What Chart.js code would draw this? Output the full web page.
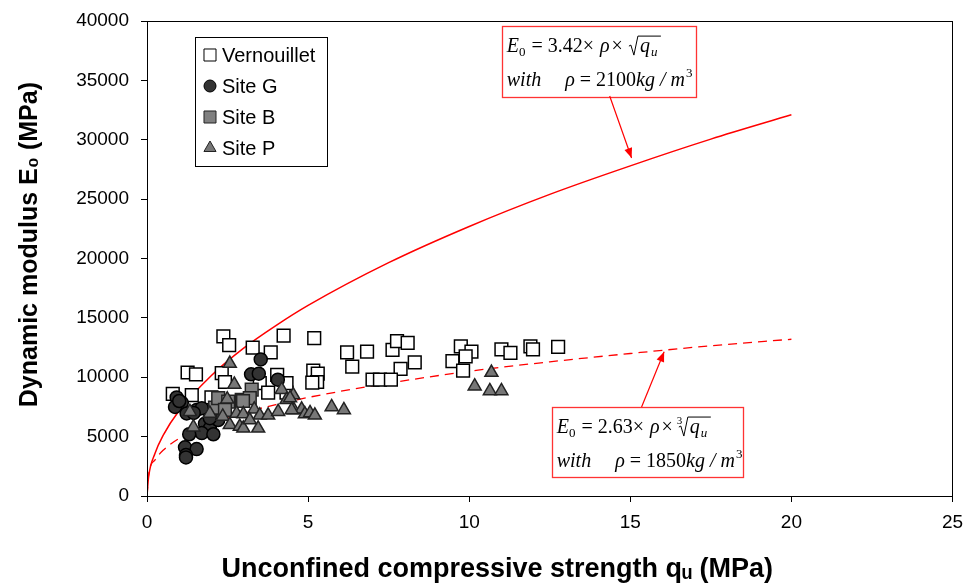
<!DOCTYPE html>
<html>
<head>
<meta charset="utf-8">
<title>Dynamic modulus vs unconfined compressive strength</title>
<script src="https://cdn.jsdelivr.net/npm/chart.js@4.4.0/dist/chart.umd.min.js"></script>
<style>
  html, body { margin: 0; padding: 0; background: #fff; }
</style>
</head>
<body>
<canvas id="chart" width="963" height="588"></canvas>
<script>
// Measured points (qu in MPa, E0 in MPa)
const vernQu = [0.80, 1.26, 1.52, 1.39, 2.00, 2.37, 2.55, 2.32, 2.42, 3.28, 3.50, 3.84, 3.76, 4.04, 4.24, 4.33, 4.33,
    5.19, 5.16, 5.30, 5.28, 5.13, 6.21, 6.83, 6.37, 7.62, 7.76, 8.09, 8.31, 7.87, 7.00, 7.23, 7.57,
    9.74, 10.07, 9.89, 9.48, 9.81, 11.00, 11.28, 11.90, 11.98, 12.76];
const vernE = [8600, 10400, 10250, 8500, 8300, 13450, 12700, 10350, 9600, 12500, 9500, 12100, 8700, 10200, 13500, 8700, 9500,
    13300, 10550, 10300, 9600, 9550, 12100, 12150, 10900, 12300, 13050, 12900, 11250, 10700, 9800, 9800, 9800,
    12600, 12150, 11750, 11350, 10550, 12350, 12050, 12600, 12350, 12550];

const siteGQu = [3.53, 3.23, 3.47, 4.06, 0.92, 1.08, 0.87, 1.23, 1.54, 1.70, 1.80, 1.95, 1.70, 2.06, 1.31, 1.18, 1.54,
    1.21, 1.21, 2.21, 1.00, 1.45, 1.95];
const siteGE = [11500, 10250, 10300, 9800, 8300, 7850, 7500, 6950, 7250, 7400, 6100, 5700, 5300, 5200, 5200, 4100, 3950,
    3450, 3250, 6400, 8000, 7000, 6550];

const siteBQu = [3.25, 2.94, 2.11, 2.21, 2.52, 3.19, 2.42, 2.98];
const siteBE = [8950, 8100, 7450, 8250, 7950, 8250, 7250, 8000];

const sitePQu = [2.57, 2.71, 2.49, 1.33, 1.95, 2.35, 1.44, 2.78, 2.99, 3.33, 3.50, 3.76, 4.07, 4.18, 4.33, 2.57, 2.88,
    2.99, 3.45, 3.19, 4.54, 4.44, 4.56, 4.80, 4.90, 5.06, 5.21, 5.73, 6.11, 10.69, 10.17, 10.64, 11.00, 4.49];
const sitePE = [11150, 9400, 8150, 7100, 6950, 6700, 5800, 6950, 6900, 7300, 6800, 6800, 7100, 8950, 8100, 6000, 5850,
    5700, 5700, 6400, 8500, 8250, 7250, 7300, 6900, 7000, 6800, 7500, 7250, 10400, 9250, 8850, 8850, 7250];

// Correlation curves
const curveQu = [0, 0.05, 0.25, 0.5, 1, 2, 3, 4, 5, 7.5, 10, 12.5, 15, 17.5, 20];
const sqrtCurveE = [0, 1600, 3600, 5100, 7200, 10150, 12450, 14350, 16050, 19650, 22700, 25400, 27800, 30050, 32100];
const cbrtCurveE = [0, 1800, 3050, 3850, 4850, 6150, 7000, 7700, 8300, 9500, 10500, 11300, 12000, 12650, 13200];

// Axis ticks
const xTicks = [0, 5, 10, 15, 20, 25];
const yTicks = [0, 5000, 10000, 15000, 20000, 25000, 30000, 35000, 40000];

function toPoints(xs, ys) {
    return xs.map((x, i) => ({ x: x, y: ys[i] }));
}

const SANS = '"Liberation Sans", Arial, sans-serif';
const SERIF = '"Liberation Serif", "Times New Roman", serif';

// Formula boxes, placed in data units
const notes = [
    { box: [11.01, 39570, 17.03, 33600], root: 2, coef: '3.42', rho: '2100', from: [14.36, 33680], to: [15.04, 28460] },
    { box: [12.56, 7490, 18.49, 1600], root: 3, coef: '2.63', rho: '1850', from: [15.35, 7490], to: [16.05, 12150] }
];

function run(ctx, text, x, y, font, dy) {
    ctx.font = font;
    ctx.fillText(text, x, y + (dy || 0));
    return x + ctx.measureText(text).width;
}

function drawFormula(ctx, x, y, note) {
    const it = 'italic 20px ' + SERIF;
    const up = '20px ' + SERIF;
    const sm = '13px ' + SERIF;
    const smIt = 'italic 13px ' + SERIF;
    ctx.fillStyle = '#000';
    ctx.textBaseline = 'alphabetic';
    ctx.textAlign = 'left';
    let cx = run(ctx, 'E', x, y, it);
    cx = run(ctx, '0', cx, y, sm, 4);
    cx = run(ctx, ' = ' + note.coef + '\u00d7 ', cx + 1, y, up);
    cx = run(ctx, '\u03c1', cx + 1, y, it);
    cx = run(ctx, '\u00d7 ', cx + 2, y, up);
    if (note.root === 3) {
        run(ctx, '3', cx - 1, y - 9, '11px ' + SERIF);
    }
    // radical sign
    const start = cx + 1;
    ctx.font = it;
    const w = ctx.measureText('q').width + 10;
    ctx.strokeStyle = '#000';
    ctx.lineWidth = 1;
    ctx.beginPath();
    ctx.moveTo(start, y - 6);
    ctx.lineTo(start + 2, y - 7);
    ctx.lineTo(start + 5, y + 3);
    ctx.lineTo(start + 9, y - 16);
    ctx.lineTo(start + 12 + w, y - 16);
    ctx.stroke();
    cx = run(ctx, 'q', start + 11, y, it);
    run(ctx, 'u', cx + 1, y, smIt, 4);

    const y2 = y + 34;
    cx = run(ctx, 'with', x, y2, it);
    cx = run(ctx, '\u03c1', cx + 24, y2, it);
    cx = run(ctx, ' = ' + note.rho, cx, y2, up);
    cx = run(ctx, 'kg / m', cx, y2, it);
    run(ctx, '3', cx + 1, y2, sm, -9);
}

function arrow(ctx, x1, y1, x2, y2) {
    const ang = Math.atan2(y2 - y1, x2 - x1);
    ctx.strokeStyle = '#ff0000';
    ctx.fillStyle = '#ff0000';
    ctx.lineWidth = 1.2;
    ctx.beginPath();
    ctx.moveTo(x1, y1);
    ctx.lineTo(x2, y2);
    ctx.stroke();
    ctx.beginPath();
    ctx.moveTo(x2, y2);
    ctx.lineTo(x2 - 10 * Math.cos(ang) + 4 * Math.sin(ang), y2 - 10 * Math.sin(ang) - 4 * Math.cos(ang));
    ctx.lineTo(x2 - 10 * Math.cos(ang) - 4 * Math.sin(ang), y2 - 10 * Math.sin(ang) + 4 * Math.cos(ang));
    ctx.closePath();
    ctx.fill();
}

// Frame, legend and formula boxes
const extrasPlugin = {
    id: 'extras',
    afterDraw(chart) {
        const ctx = chart.ctx;
        const area = chart.chartArea;
        const xs = chart.scales.x;
        const ys = chart.scales.y;
        ctx.save();

        // plot frame
        ctx.strokeStyle = '#000';
        ctx.lineWidth = 1;
        ctx.strokeRect(Math.round(area.left) + 0.5, Math.round(area.top) + 0.5,
            Math.round(area.right - area.left) - 1, Math.round(area.bottom - area.top));

        // formula boxes and arrows
        notes.forEach(note => {
            const bx1 = xs.getPixelForValue(note.box[0]);
            const by1 = ys.getPixelForValue(note.box[1]);
            const bx2 = xs.getPixelForValue(note.box[2]);
            const by2 = ys.getPixelForValue(note.box[3]);
            ctx.fillStyle = '#fff';
            ctx.fillRect(bx1, by1, bx2 - bx1, by2 - by1);
            ctx.strokeStyle = '#ff3333';
            ctx.lineWidth = 1.3;
            ctx.strokeRect(Math.round(bx1) + 0.5, Math.round(by1) + 0.5, Math.round(bx2 - bx1), Math.round(by2 - by1));
            drawFormula(ctx, bx1 + 5, by1 + 26, note);
            arrow(ctx, xs.getPixelForValue(note.from[0]), ys.getPixelForValue(note.from[1]),
                xs.getPixelForValue(note.to[0]), ys.getPixelForValue(note.to[1]));
        });

        // legend
        const lx = Math.round(area.left) + 48;
        const ly = Math.round(area.top) + 16;
        ctx.fillStyle = '#fff';
        ctx.fillRect(lx, ly, 132, 129);
        ctx.strokeStyle = '#000';
        ctx.lineWidth = 1;
        ctx.strokeRect(lx + 0.5, ly + 0.5, 132, 129);
        const items = chart.data.datasets.filter(d => d.inLegend).reverse();
        items.forEach((d, i) => {
            const cy = ly + 18 + i * 31;
            ctx.fillStyle = d.backgroundColor;
            ctx.strokeStyle = d.borderColor;
            ctx.lineWidth = 1;
            Chart.helpers.drawPoint(ctx, {
                pointStyle: d.pointStyle,
                radius: d.pointStyle === 'circle' ? 6 : (d.pointStyle === 'triangle' ? 7 : 8.5),
                borderWidth: 1,
                rotation: 0
            }, lx + 15, cy);
            ctx.fillStyle = '#000';
            ctx.font = '20px ' + SANS;
            ctx.textBaseline = 'middle';
            ctx.textAlign = 'left';
            ctx.fillText(d.label, lx + 27, cy + 1);
        });
        ctx.restore();
    }
};

const ctx = document.getElementById('chart').getContext('2d');

new Chart(ctx, {
    type: 'scatter',
    data: {
        datasets: [
            {
                label: 'Site P',
                inLegend: true,
                data: toPoints(sitePQu, sitePE),
                pointStyle: 'triangle',
                pointRadius: 7.5,
                backgroundColor: '#777777',
                borderColor: '#222222',
                borderWidth: 1.5,
                order: 1
            },
            {
                label: 'Site B',
                inLegend: true,
                data: toPoints(siteBQu, siteBE),
                pointStyle: 'rect',
                pointRadius: 9,
                backgroundColor: '#808080',
                borderColor: '#222222',
                borderWidth: 1.5,
                order: 2
            },
            {
                label: 'Site G',
                inLegend: true,
                data: toPoints(siteGQu, siteGE),
                pointStyle: 'circle',
                pointRadius: 6.5,
                backgroundColor: '#333333',
                borderColor: '#000000',
                borderWidth: 1.5,
                order: 3
            },
            {
                label: 'Vernouillet',
                inLegend: true,
                data: toPoints(vernQu, vernE),
                pointStyle: 'rect',
                pointRadius: 9,
                backgroundColor: '#ffffff',
                borderColor: '#000000',
                borderWidth: 1.5,
                order: 4
            },
            {
                label: 'E0 = 3.42 x rho x sqrt(qu)',
                data: toPoints(curveQu, sqrtCurveE),
                showLine: true,
                borderColor: '#ff0000',
                borderWidth: 1.5,
                pointRadius: 0,
                cubicInterpolationMode: 'monotone',
                order: 6
            },
            {
                label: 'E0 = 2.63 x rho x cbrt(qu)',
                data: toPoints(curveQu, cbrtCurveE),
                showLine: true,
                borderColor: '#ff0000',
                borderWidth: 1.3,
                borderDash: [9, 6],
                pointRadius: 0,
                cubicInterpolationMode: 'monotone',
                order: 5
            }
        ]
    },
    options: {
        responsive: false,
        animation: false,
        layout: { padding: { top: 21, right: 0, left: 0, bottom: 0 } },
        plugins: {
            legend: { display: false },
            tooltip: { enabled: false }
        },
        scales: {
            x: {
                type: 'linear',
                min: xTicks[0],
                max: xTicks[xTicks.length - 1],
                afterBuildTicks: scale => { scale.ticks = xTicks.map(v => ({ value: v })); },
                ticks: {
                    color: '#000',
                    font: { family: SANS, size: 19 },
                    padding: 9,
                    maxRotation: 0
                },
                grid: { drawOnChartArea: false, drawTicks: true, tickLength: 6, color: '#000' },
                border: { color: '#000', width: 1 },
                title: {
                    display: true,
                    // trailing spaces keep the label left of the plot centre, as in the original
                    text: 'Unconfined compressive strength q\u1d64 (MPa)' + '\u00a0'.repeat(14),
                    color: '#000',
                    font: { family: SANS, size: 27, weight: 'bold' },
                    padding: { top: 0, bottom: 2 }
                },
                afterFit: scale => {
                    scale.height = 92;
                    scale.paddingRight = 10;
                }
            },
            y: {
                type: 'linear',
                min: yTicks[0],
                max: yTicks[yTicks.length - 1],
                afterBuildTicks: scale => { scale.ticks = yTicks.map(v => ({ value: v })); },
                ticks: {
                    color: '#000',
                    font: { family: SANS, size: 19 },
                    padding: 12,
                    callback: value => String(value)
                },
                grid: { drawOnChartArea: false, drawTicks: true, tickLength: 6, color: '#000' },
                border: { color: '#000', width: 1 },
                title: {
                    display: true,
                    text: '\u00a0'.repeat(4) + 'Dynamic modulus E\u2080 (MPa)',
                    color: '#000',
                    font: { family: SANS, size: 25, weight: 'bold' },
                    padding: { top: 15, bottom: 0 }
                },
                afterFit: scale => {
                    scale.width = 147;
                    scale.paddingTop = 0;
                }
            }
        }
    },
    plugins: [extrasPlugin]
});
</script>
</body>
</html>
